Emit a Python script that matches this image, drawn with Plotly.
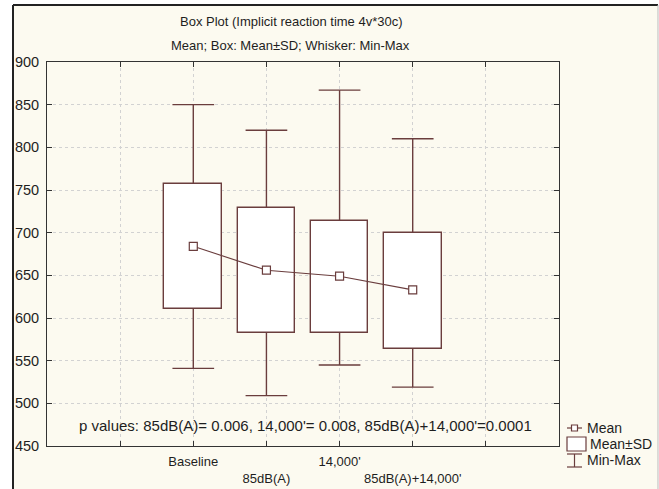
import plotly.graph_objects as go

# ---- data ----
categories = ["Baseline", "85dB(A)", "14,000'", "85dB(A)+14,000'"]
means = [684, 656, 649, 633]
box_low = [611, 583, 583, 564]    # Mean - SD
box_high = [757, 729, 714, 700]   # Mean + SD
mins = [541, 509, 545, 519]
maxs = [850, 820, 867, 810]
y_ticks = [450, 500, 550, 600, 650, 700, 750, 800, 850, 900]
title1 = "Box Plot (Implicit reaction time 4v*30c)"
title2 = "Mean; Box: Mean±SD; Whisker: Min-Max"
p_text = "p values: 85dB(A)= 0.006, 14,000'= 0.008, 85dB(A)+14,000'=0.0001"
legend_labels = ["Mean", "Mean±SD", "Min-Max"]

# ---- layout geometry ----
W, H = 659, 489
ML, MR, MT, MB = 47, 100, 62, 43
PW, PH = W - ML - MR, H - MT - MB
BROWN = "#6a3d3d"
FONT = "Liberation Sans, Arial, sans-serif"
TXT = "#1e1e1e"


def px(x):
    return (x - ML) / PW


def py(y):
    return (H - MB - y) / PH


xs = [i + 2 for i in range(len(categories))]
cap = 0.285

fig = go.Figure()

# boxes (mean ± SD)
fig.add_trace(go.Bar(
    x=xs, base=box_low, y=[h - l for h, l in zip(box_high, box_low)],
    width=0.79, marker=dict(color="white", line=dict(color=BROWN, width=1.4)),
    showlegend=False, hoverinfo="skip"))

# whiskers and caps
wx, wy = [], []
for x, lo, hi, mn, mx in zip(xs, box_low, box_high, mins, maxs):
    wx += [x, x, None, x, x, None, x - cap, x + cap, None, x - cap, x + cap, None]
    wy += [hi, mx, None, lo, mn, None, mx, mx, None, mn, mn, None]
fig.add_trace(go.Scatter(x=wx, y=wy, mode="lines",
                         line=dict(color=BROWN, width=1.4),
                         showlegend=False, hoverinfo="skip"))

# means
fig.add_trace(go.Scatter(x=xs, y=means, mode="lines+markers",
                         line=dict(color=BROWN, width=1.1),
                         marker=dict(symbol="square", size=8, color="white",
                                     line=dict(color=BROWN, width=1.2)),
                         showlegend=False))

# x tick labels (staggered)
ticktext = [""] + [c if i % 2 == 0 else "<br>" + c for i, c in enumerate(categories)] + [""]

fig.update_layout(
    width=W, height=H,
    margin=dict(l=ML, r=MR, t=MT, b=MB, autoexpand=False),
    paper_bgcolor="white", plot_bgcolor="white",
    font=dict(family=FONT, color=TXT, size=13),
    bargap=0,
    xaxis=dict(range=[0, 7], tickvals=[1, 2, 3, 4, 5, 6], ticktext=ticktext,
               showgrid=True, gridcolor="#d2d2d2", griddash="dot", gridwidth=1,
               ticks="inside", ticklen=5, tickcolor="#333",
               showline=True, linecolor="#333", linewidth=1, mirror="ticks",
               tickfont=dict(size=13, family=FONT, color=TXT), zeroline=False,
               ticklabelstandoff=3, automargin=False),
    yaxis=dict(range=[450, 900], tickvals=y_ticks,
               showgrid=True, gridcolor="#d2d2d2", griddash="dot", gridwidth=1,
               ticks="inside", ticklen=5, tickcolor="#333",
               showline=True, linecolor="#333", linewidth=1, mirror="ticks",
               tickfont=dict(size=14.5, family=FONT, color=TXT), zeroline=False,
               ticklabelstandoff=4, automargin=False),
)

shapes = []
# page frame (cream background with border)
shapes.append(dict(type="rect", xref="paper", yref="paper", layer="below",
                   x0=px(13), x1=px(658), y0=py(500), y1=py(5),
                   fillcolor="#fcfaf0", line=dict(width=0)))
shapes.append(dict(type="line", xref="paper", yref="paper", layer="below",
                   x0=px(13), x1=px(13), y0=py(500), y1=py(5),
                   line=dict(color="#222", width=2)))
shapes.append(dict(type="line", xref="paper", yref="paper", layer="below",
                   x0=px(13), x1=px(658), y0=py(5), y1=py(5),
                   line=dict(color="#222", width=2)))
shapes.append(dict(type="line", xref="paper", yref="paper", layer="below",
                   x0=px(658), x1=px(658), y0=py(500), y1=py(5),
                   line=dict(color="#bbb", width=1)))

# legend symbols
shapes.append(dict(type="line", xref="paper", yref="paper",
                   x0=px(567), x1=px(582), y0=py(428), y1=py(428),
                   line=dict(color=BROWN, width=1.2)))
shapes.append(dict(type="rect", xref="paper", yref="paper",
                   x0=px(571.5), x1=px(577.5), y0=py(431), y1=py(425),
                   fillcolor="white", line=dict(color=BROWN, width=1.2)))
shapes.append(dict(type="rect", xref="paper", yref="paper",
                   x0=px(567), x1=px(586), y0=py(451), y1=py(437),
                   fillcolor="white", line=dict(color=BROWN, width=1.2)))
for seg in [(567, 582, 454, 454), (567, 582, 467, 467), (574.5, 574.5, 454, 467)]:
    shapes.append(dict(type="line", xref="paper", yref="paper",
                       x0=px(seg[0]), x1=px(seg[1]), y0=py(seg[2]), y1=py(seg[3]),
                       line=dict(color=BROWN, width=1.2)))
fig.update_layout(shapes=shapes)

ann = []
ann.append(dict(text=title1, x=px(291), y=py(22), xref="paper", yref="paper",
                showarrow=False, xanchor="center", yanchor="middle",
                font=dict(size=13, family=FONT, color=TXT)))
ann.append(dict(text=title2, x=px(290), y=py(45), xref="paper", yref="paper",
                showarrow=False, xanchor="center", yanchor="middle",
                font=dict(size=13, family=FONT, color=TXT)))
ann.append(dict(text=p_text, x=px(305), y=py(425), xref="paper", yref="paper",
                showarrow=False, xanchor="center", yanchor="middle",
                font=dict(size=15, family=FONT, color=TXT)))
for lbl, yy, xx in zip(legend_labels, [428, 444, 460], [585, 588, 585]):
    ann.append(dict(text=lbl, x=px(xx), y=py(yy), xref="paper", yref="paper",
                    showarrow=False, xanchor="left", yanchor="middle",
                    font=dict(size=14, family=FONT, color=TXT)))
fig.update_layout(annotations=ann)

fig.write_html("out.html")
